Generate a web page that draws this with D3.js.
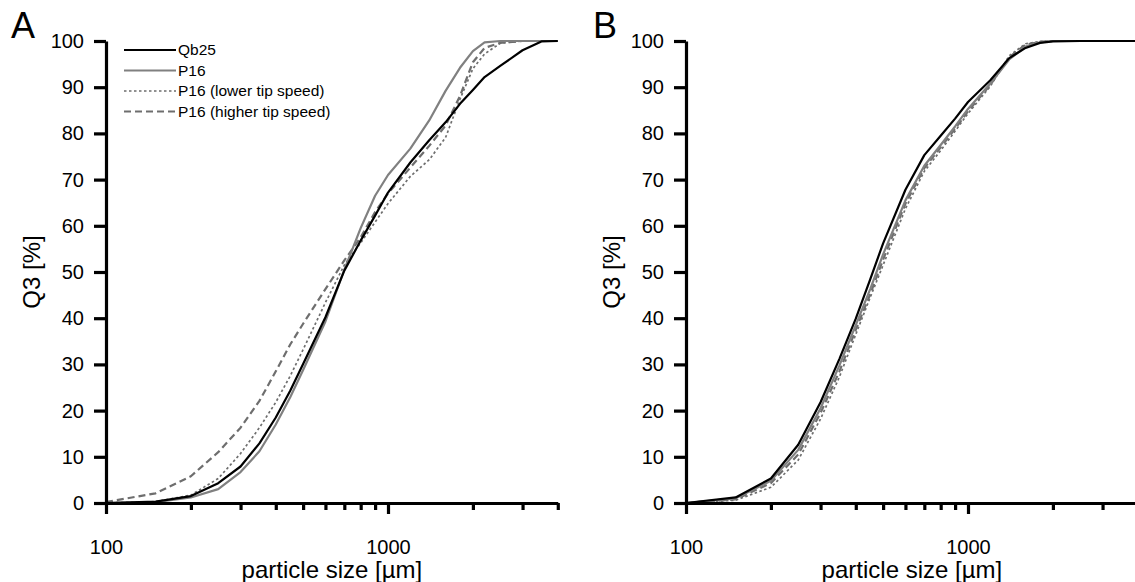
<!DOCTYPE html>
<html>
<head>
<meta charset="utf-8">
<script src="https://cdn.jsdelivr.net/npm/d3@7"></script>
<style>
  body { margin: 0; background: #fff; }
  svg { display: block; font-family: "Liberation Sans", Arial, sans-serif; }
</style>
</head>
<body>
<div id="chart"></div>
<script>
// particle sizes [µm] where the curves were read
const sizesA = [100, 150, 200, 250, 300, 350, 400, 450, 500, 600, 700, 800, 900, 1000, 1200, 1400, 1600, 1800, 2000, 2200, 2500, 3000, 3500, 4000];
const sizesB = [100, 150, 200, 250, 300, 350, 400, 450, 500, 600, 700, 800, 900, 1000, 1200, 1400, 1600, 1800, 2000, 2500, 3000, 4000];

// panel A, cumulative Q3 [%]
const qb25A   = [0, 0.3, 1.5, 4.3, 7.9, 12.9, 18.5, 24.3, 30.1, 40.2, 50.3, 56.8, 62.2, 67.2, 73.7, 78.5, 82.4, 86.4, 89.4, 92.2, 94.6, 98.0, 99.9, 100];
const p16A    = [0, 0.2, 1.2, 3.0, 6.7, 11.2, 17.0, 22.9, 28.8, 39.3, 50.5, 59.5, 66.5, 71.0, 76.7, 82.8, 89.2, 94.2, 97.8, 99.7, 100, 100, 100, 100];
const lowerA  = [0, 0.3, 1.7, 5.3, 10.7, 16.3, 21.8, 27.5, 33.2, 43.4, 51.5, 56.3, 60.8, 64.8, 70.7, 74.3, 79.1, 87.4, 94.0, 97.2, 99.5, 100, 100, 100];
const higherA = [0.2, 2.1, 5.8, 11.0, 16.3, 22.1, 28.5, 34.3, 38.8, 46.3, 52.5, 57.5, 63.0, 67.0, 72.6, 77.3, 81.7, 88.1, 95.4, 98.5, 99.6, 100, 100, 100];

// panel B, cumulative Q3 [%]
const qb25B   = [0, 1.2, 5.3, 12.6, 21.8, 31.2, 39.9, 48.4, 56.2, 67.8, 75.3, 79.5, 83.2, 86.8, 91.5, 96.3, 98.5, 99.6, 99.9, 100, 100, 100];
const p16B    = [0, 1.0, 4.8, 11.5, 20.5, 29.8, 38.5, 46.3, 53.8, 65.5, 73.0, 77.5, 81.5, 85.3, 90.8, 96.0, 98.8, 99.7, 100, 100, 100, 100];
const lowerB  = [0, 0.6, 3.4, 9.3, 18.2, 27.3, 36.5, 44.5, 51.5, 63.7, 71.8, 76.3, 80.5, 84.3, 90.2, 96.8, 99.4, 99.9, 100, 100, 100, 100];
const higherB = [0, 0.8, 4.3, 10.5, 19.5, 28.5, 37.5, 45.2, 52.7, 64.8, 72.5, 77.0, 81.0, 84.8, 90.5, 96.5, 99.2, 99.8, 100, 100, 100, 100];

const seriesNames = ['Qb25', 'P16', 'P16 (lower tip speed)', 'P16 (higher tip speed)'];
const yTicks = [0, 10, 20, 30, 40, 50, 60, 70, 80, 90, 100];
const xMajor = [100, 1000];
const xMinor = [200, 300, 400, 500, 600, 700, 800, 900, 2000, 3000, 4000];

// line looks, in series order
const looks = [
  { color: '#000', width: 2.2, dash: null },
  { color: '#808080', width: 2.2, dash: null },
  { color: '#6e6e6e', width: 1.7, dash: '2.5,2.5' },
  { color: '#6e6e6e', width: 2.2, dash: '7,4' },
];

const W = 1135, H = 582;
const svg = d3.select('#chart').append('svg').attr('width', W).attr('height', H);

const y = d3.scaleLinear().domain([0, 100]).range([503, 41]);

function drawPanel(left, letter, letterX, sizes, series, withLegend) {
  const x = d3.scaleLog().domain([100, 4000]).range([left, left + 282 * Math.log10(40)]);
  const g = svg.append('g');

  const line = d3.line().x((d) => x(d[0])).y((d) => y(d[1]));
  // draw back to front so the black curve sits on top
  [3, 2, 1, 0].forEach((i) => {
    const pts = sizes.map((s, k) => [s, series[i][k]]);
    g.append('path')
      .attr('d', line(pts))
      .attr('fill', 'none')
      .attr('stroke', looks[i].color)
      .attr('stroke-width', looks[i].width)
      .attr('stroke-dasharray', looks[i].dash)
      .attr('stroke-linejoin', 'round');
  });

  // y axis
  g.append('g')
    .attr('transform', `translate(${left},0)`)
    .call(d3.axisLeft(y).tickValues(yTicks).tickSize(12).tickSizeOuter(0).tickPadding(10));

  // x axis, major and minor ticks
  g.append('g')
    .attr('transform', 'translate(0,503)')
    .call(d3.axisBottom(x).tickValues(xMajor).tickFormat(d3.format('d')).tickSize(11).tickSizeOuter(0).tickPadding(26));
  g.append('g')
    .attr('transform', 'translate(0,503)')
    .call(d3.axisBottom(x).tickValues(xMinor).tickFormat('').tickSize(7).tickSizeOuter(0))
    .select('.domain').remove();

  g.selectAll('.domain').attr('stroke', '#000').attr('stroke-width', 3.2);
  g.selectAll('.tick line').attr('stroke', '#000').attr('stroke-width', 3.2);
  g.selectAll('.tick text').attr('font-size', 20).attr('fill', '#000')
    .attr('font-family', '"Liberation Sans", Arial, sans-serif');

  // axis titles
  g.append('text')
    .attr('x', (x.range()[0] + x.range()[1]) / 2)
    .attr('y', 578)
    .attr('text-anchor', 'middle')
    .attr('font-size', 24)
    .text('particle size [µm]');
  g.append('text')
    .attr('transform', `translate(${left - 66},272) rotate(-90)`)
    .attr('text-anchor', 'middle')
    .attr('font-size', 24)
    .text('Q3 [%]');

  // panel letter
  g.append('text')
    .attr('x', letterX)
    .attr('y', 38)
    .attr('font-size', 36)
    .text(letter);

  if (withLegend) {
    const lg = g.append('g').attr('transform', `translate(${left + 18},50)`);
    seriesNames.forEach((name, i) => {
      const row = lg.append('g').attr('transform', `translate(0,${i * 20.5})`);
      row.append('line')
        .attr('x1', 0).attr('x2', 52)
        .attr('stroke', looks[i].color)
        .attr('stroke-width', i === 2 ? 1.5 : 2)
        .attr('stroke-dasharray', looks[i].dash);
      row.append('text')
        .attr('x', 54)
        .attr('dy', '0.35em')
        .attr('font-size', 15.5)
        .text(name);
    });
  }
}

drawPanel(106, 'A', 11, sizesA, [qb25A, p16A, lowerA, higherA], true);
drawPanel(686, 'B', 593, sizesB, [qb25B, p16B, lowerB, higherB], false);
</script>
</body>
</html>
